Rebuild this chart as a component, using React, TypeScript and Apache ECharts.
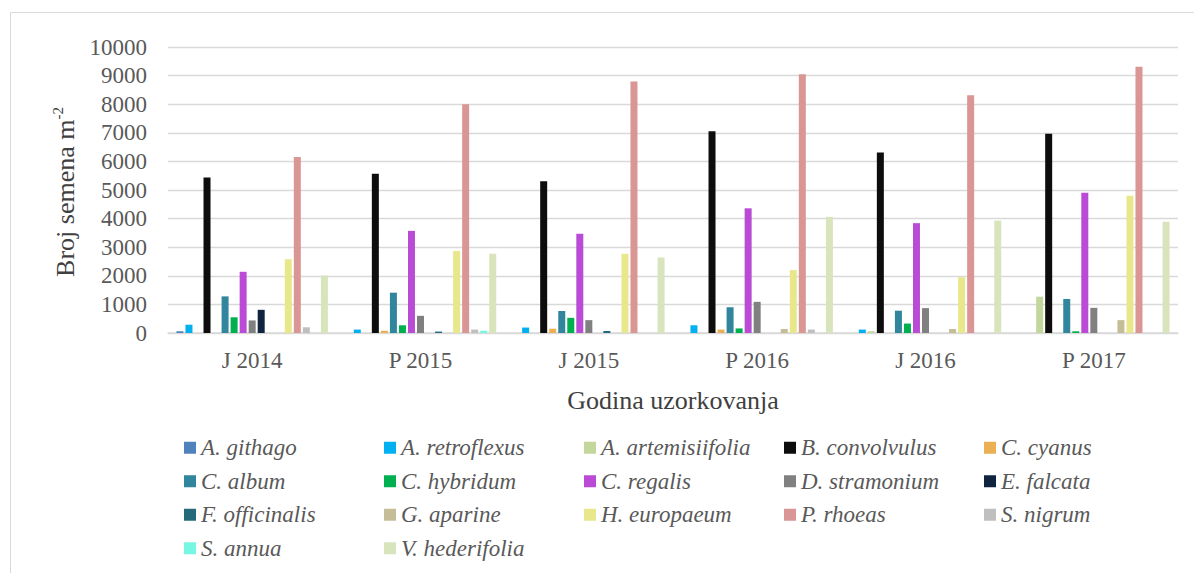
import React, { useEffect, useRef } from "react";
import * as echarts from "echarts";

const categories = ["J 2014", "P 2015", "J 2015", "P 2016", "J 2016", "P 2017"];
const yTicks = [0, 1000, 2000, 3000, 4000, 5000, 6000, 7000, 8000, 9000, 10000];

const aGithago = [60, 0, 0, 0, 0, 0];
const aRetroflexus = [290, 120, 190, 270, 120, 0];
const aArtemisiifolia = [0, 0, 0, 0, 60, 1270];
const bConvolvulus = [5440, 5570, 5310, 7050, 6310, 6970];
const cCyanus = [0, 80, 150, 120, 0, 0];
const cAlbum = [1280, 1410, 770, 900, 780, 1190];
const cHybridum = [550, 270, 530, 160, 330, 60];
const cRegalis = [2140, 3570, 3470, 4360, 3840, 4900];
const dStramonium = [440, 600, 450, 1090, 870, 880];
const eFalcata = [810, 0, 0, 0, 0, 0];
const fOfficinalis = [0, 50, 70, 0, 0, 0];
const gAparine = [0, 0, 0, 140, 140, 450];
const hEuropaeum = [2580, 2870, 2770, 2200, 1950, 4800];
const pRhoeas = [6150, 8000, 8790, 9050, 8310, 9310];
const sNigrum = [200, 120, 0, 120, 0, 0];
const sAnnua = [0, 80, 0, 0, 0, 0];
const vHederifolia = [2010, 2770, 2640, 4060, 3930, 3890];

const seriesNames = [
  "A. githago", "A. retroflexus", "A. artemisiifolia", "B. convolvulus", "C. cyanus",
  "C. album", "C. hybridum", "C. regalis", "D. stramonium", "E. falcata",
  "F. officinalis", "G. aparine", "H. europaeum", "P. rhoeas", "S. nigrum",
  "S. annua", "V. hederifolia",
];
const seriesValues = [
  aGithago, aRetroflexus, aArtemisiifolia, bConvolvulus, cCyanus,
  cAlbum, cHybridum, cRegalis, dStramonium, eFalcata,
  fOfficinalis, gAparine, hEuropaeum, pRhoeas, sNigrum,
  sAnnua, vHederifolia,
];
const seriesColors = [
  "#4F81BD", "#00B0F0", "#C3D69B", "#0D0D0D", "#EAB053",
  "#31859C", "#00B050", "#BA4BD6", "#808080", "#10243F",
  "#256A7A", "#C4BD97", "#E9E78B", "#D99694", "#BFBFBF",
  "#75F7E1", "#D8E4BC",
];

const FONT = "Liberation Serif";
const TEXT = "#595959";

export default function App() {
  const ref = useRef<HTMLDivElement>(null);
  useEffect(() => {
    if (!ref.current) return;
    const chart = echarts.init(ref.current, null, { renderer: "svg" });
    chart.setOption({
      animation: false,
      backgroundColor: "#ffffff",
      textStyle: { fontFamily: FONT },
      grid: { left: 168, right: 16, top: 47, bottom: 240, containLabel: false },
      xAxis: {
        type: "category",
        data: categories,
        axisLine: { show: true, lineStyle: { color: "#d9d9d9", width: 1.5 } },
        axisTick: { show: false },
        axisLabel: { color: TEXT, fontFamily: FONT, fontSize: 23, margin: 16 },
      },
      yAxis: {
        type: "value",
        min: 0,
        max: yTicks[yTicks.length - 1],
        interval: yTicks[1] - yTicks[0],
        axisLine: { show: false },
        axisTick: { show: false },
        splitLine: { lineStyle: { color: "#d9d9d9", width: 1.3 } },
        axisLabel: {
          color: TEXT,
          fontFamily: FONT,
          fontSize: 23,
          margin: 21,
          formatter: (v: number) => String(v),
        },
      },
      legend: {
        left: 179,
        top: 426,
        width: 1010,
        itemWidth: 12,
        itemHeight: 12,
        itemGap: 0,
        icon: "rect",
        selectedMode: false,
        textStyle: {
          color: TEXT,
          fontFamily: FONT,
          fontStyle: "italic",
          fontSize: 23,
          width: 183,
          lineHeight: 33.5,
        },
        data: seriesNames,
      },
      graphic: [
        {
          type: "rect",
          shape: { x: 10.5, y: 12.5, width: 1300, height: 700 },
          style: { fill: "none", stroke: "#d9d9d9", lineWidth: 1 },
          silent: true,
        },
        {
          type: "text",
          x: 65,
          y: 192,
          rotation: Math.PI / 2,
          style: {
            text: "{a|Broj semena m}{b|-2}",
            align: "center",
            verticalAlign: "middle",
            fill: "#404040",
            rich: {
              a: { fontFamily: FONT, fontSize: 26, color: "#404040", lineHeight: 30 },
              b: { fontFamily: FONT, fontSize: 15, color: "#404040", lineHeight: 30, padding: [0, 0, 12, 0], verticalAlign: "top" },
            },
          },
        },
        {
          type: "text",
          x: 673,
          y: 400,
          style: {
            text: "Godina uzorkovanja",
            align: "center",
            verticalAlign: "middle",
            fill: "#404040",
            fontFamily: FONT,
            fontSize: 26,
          },
        },
      ],
      series: seriesNames.map((name, i) => ({
        name,
        type: "bar",
        data: seriesValues[i],
        barWidth: 7,
        barGap: "29%",
        itemStyle: { color: seriesColors[i] },
      })),
    });
    return () => chart.dispose();
  }, []);
  return (
    <div
      ref={ref}
      style={{ position: "absolute", left: 0, top: 0, width: 1194, height: 573, background: "#fff" }}
    />
  );
}
